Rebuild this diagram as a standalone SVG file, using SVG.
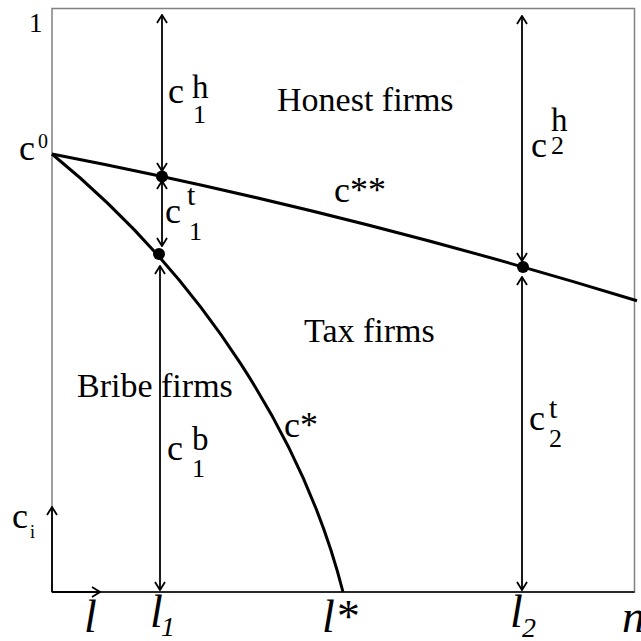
<svg xmlns="http://www.w3.org/2000/svg" width="641" height="641" viewBox="0 0 641 641">
<style>
text{font-family:"Liberation Serif","Times New Roman",serif;fill:#000}
.w{font-size:34px}
.c{font-size:36px}
.sup{font-size:33px}
.supt{font-size:30px}
.sub{font-size:26px}
.it{font-style:italic;font-size:46px}
.its{font-style:italic;font-size:28px}
.curve{fill:none;stroke:#000;stroke-width:3}
.arr{fill:none;stroke:#000;stroke-width:1.8}
.dot{fill:#000}
</style>
<defs>
<marker id="ah" viewBox="0 0 10 12" refX="9" refY="6" markerWidth="10" markerHeight="12" markerUnits="userSpaceOnUse" orient="auto-start-reverse">
<path d="M1,1 L9,6 L1,11" fill="none" stroke="#000" stroke-width="1.8"/>
</marker>
</defs>
<rect x="0" y="0" width="641" height="641" fill="#fff"/>
<g id="frame">
<rect x="52" y="8.5" width="582.5" height="583.5" fill="none" stroke="#808080" stroke-width="1.5"/>
<line x1="52" y1="592" x2="634.5" y2="592" stroke="#000" stroke-width="1.5"/>
</g>
<g id="connectors">
<path id="c2star" class="curve" d="M52,154 Q344.5,210.7 637,300.8"/>
<path id="cstar" class="curve" d="M52,154 C205,279 305,442 343,592"/>
<line class="arr" x1="162" y1="15" x2="162" y2="171" marker-start="url(#ah)" marker-end="url(#ah)"/>
<line class="arr" x1="162" y1="181" x2="162" y2="246" marker-start="url(#ah)" marker-end="url(#ah)"/>
<line class="arr" x1="160" y1="266" x2="160" y2="590" marker-start="url(#ah)" marker-end="url(#ah)"/>
<line class="arr" x1="522" y1="16" x2="522" y2="261" marker-start="url(#ah)" marker-end="url(#ah)"/>
<line class="arr" x1="522" y1="277" x2="522" y2="590" marker-start="url(#ah)" marker-end="url(#ah)"/>
<line class="arr" x1="52" y1="592" x2="52" y2="507" marker-end="url(#ah)"/>
<line class="arr" x1="52" y1="592" x2="100" y2="592" marker-end="url(#ah)"/>
</g>
<g id="dots">
<circle class="dot" cx="162" cy="176.5" r="6"/>
<circle class="dot" cx="159" cy="254" r="6"/>
<circle class="dot" cx="523" cy="267" r="6"/>
</g>
<g id="labels">
<text x="29" y="32" style="font-size:27px">1</text>
<g id="c0"><text class="c" x="19" y="160">c</text><text x="38" y="148" style="font-size:20px">0</text></g>
<g id="c1h"><text class="c" x="168" y="103">c</text><text class="sup" x="192" y="98">h</text><text class="sub" x="193" y="123">1</text></g>
<g id="honest"><text class="w" x="277" y="111">Honest firms</text></g>
<g id="c2h"><text class="c" x="531" y="157">c</text><text class="sup" x="551" y="131">h</text><text class="sub" x="551" y="154">2</text></g>
<g id="c2s"><text class="c" x="334" y="202">c**</text></g>
<g id="c1t"><text class="c" x="165" y="223">c</text><text class="supt" x="187" y="205">t</text><text class="sub" x="189" y="240">1</text></g>
<g id="tax"><text class="w" x="304" y="342">Tax firms</text></g>
<g id="bribe"><text class="w" x="77" y="397">Bribe firms</text></g>
<g id="cs"><text class="c" x="284" y="437">c*</text></g>
<g id="c1b"><text class="c" x="167" y="460">c</text><text class="sup" x="192" y="450">b</text><text class="sub" x="192" y="477">1</text></g>
<g id="c2t"><text class="c" x="529" y="430">c</text><text class="supt" x="549" y="418">t</text><text class="sub" x="549" y="447">2</text></g>
<g id="ci"><text class="c" x="12" y="528">c</text><text x="30" y="538" style="font-size:18px">i</text></g>
<g id="axis-labels">
<text class="it" x="84" y="632">l</text>
<text class="it" x="150" y="627">l</text><text class="its" x="161" y="636">1</text>
<text class="it" x="322" y="632">l*</text>
<text class="it" x="510" y="627">l</text><text class="its" x="522" y="637">2</text>
<text class="it" x="622" y="632">n</text>
</g>
</g>
</svg>
